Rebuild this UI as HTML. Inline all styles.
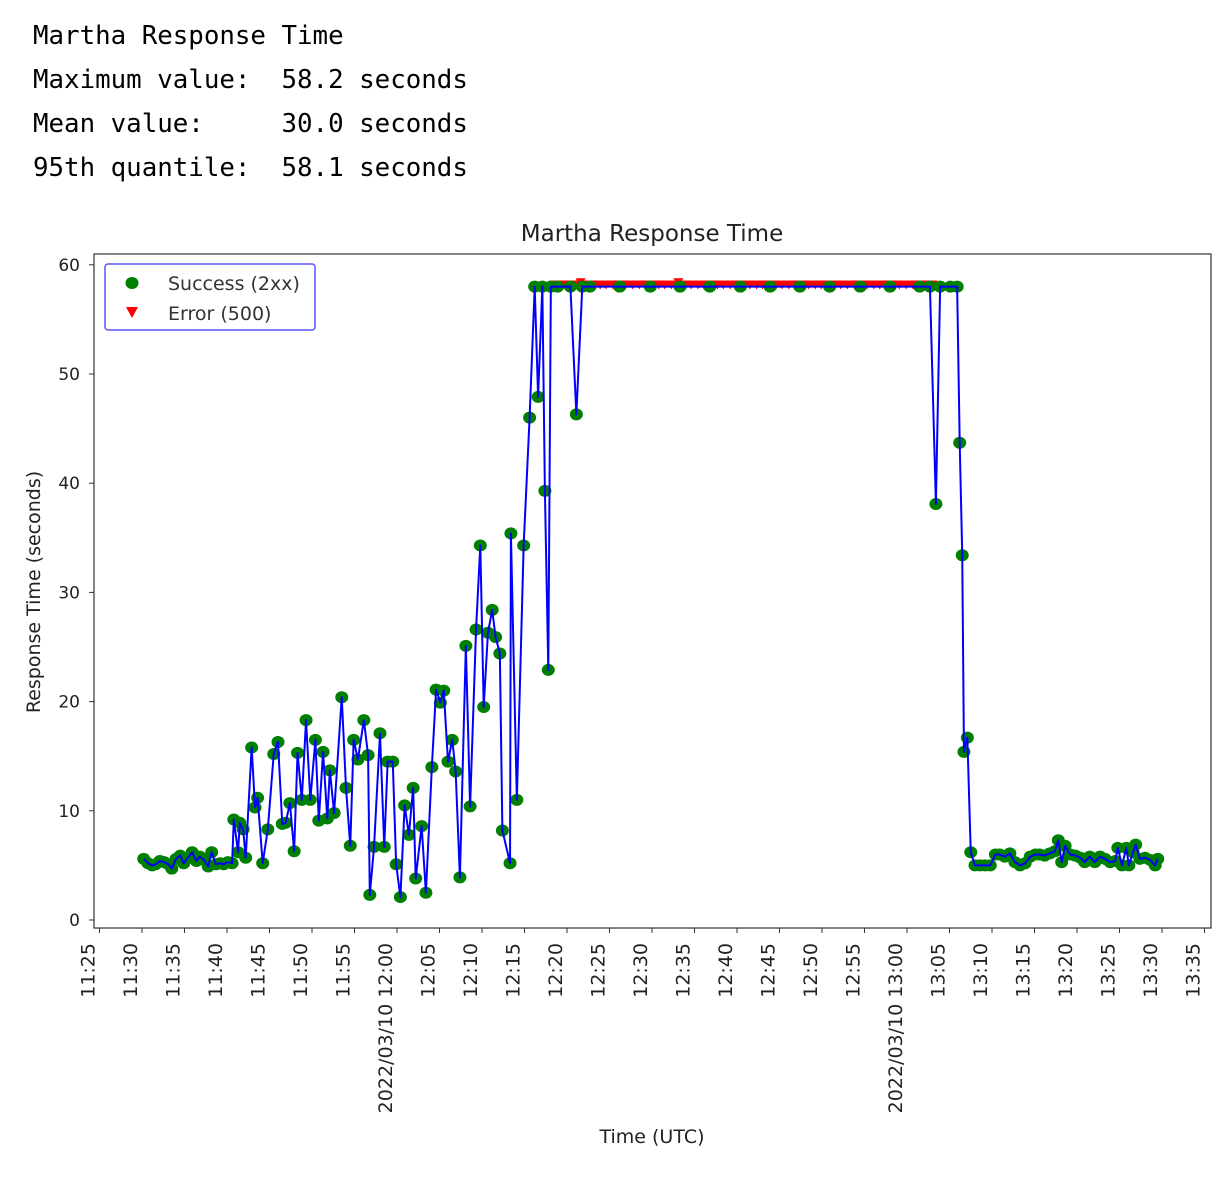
<!DOCTYPE html>
<html><head><meta charset="utf-8"><style>
body{margin:0;background:#fff;width:1228px;height:1180px;overflow:hidden}
#hdr{position:absolute;left:33px;top:14px;font-family:"DejaVu Sans Mono","Liberation Mono",monospace;font-size:25.8px;line-height:44px;white-space:pre;color:#000}
svg{position:absolute;left:0;top:0}
</style></head><body>
<div id="hdr">Martha Response Time
Maximum value:  58.2 seconds
Mean value:     30.0 seconds
95th quantile:  58.1 seconds</div>
<svg id="chart" width="1228" height="1180"></svg>
<script>
// minutes after 11:00 UTC
const successTimes=[30.2,30.7,31.2,31.6,32.1,32.6,33.1,33.5,34.0,34.5,34.9,35.4,35.9,36.4,36.8,37.3,37.8,38.2,38.7,39.2,39.6,40.1,40.6,40.8,41.3,41.5,41.9,42.2,42.9,43.3,43.6,44.2,44.8,45.5,46.0,46.5,46.9,47.4,47.9,48.3,48.8,49.3,49.8,50.4,50.8,51.3,51.8,52.1,52.6,53.5,54.0,54.5,54.9,55.4,56.1,56.6,56.8,57.3,58.0,58.5,58.9,59.5,59.9,60.4,60.9,61.4,61.9,62.2,62.9,63.4,64.1,64.6,65.1,65.5,66.0,66.5,66.9,67.4,68.1,68.6,69.3,69.8,70.2,70.7,71.2,71.6,72.1,72.4,73.3,73.4,74.1,74.9,75.6,76.2,76.6,77.1,77.4,77.8,78.1,78.9,80.4,81.1,81.8,82.7,86.2,89.8,93.3,96.8,100.4,103.9,107.4,110.9,114.5,118.0,121.5,122.7,123.4,123.9,125.1,125.9,126.2,126.5,126.7,127.1,127.5,128.0,128.6,129.2,129.8,130.4,130.9,131.5,132.1,132.7,133.3,133.9,134.5,135.1,135.6,136.2,136.8,137.4,137.8,138.2,138.6,139.2,139.8,140.4,140.9,141.5,142.1,142.7,143.3,143.9,144.5,144.8,145.3,145.8,146.1,146.6,146.9,147.4,148.0,148.6,149.2,149.5];
const successValues=[5.6,5.2,5.0,5.1,5.4,5.3,5.1,4.7,5.6,5.9,5.2,5.7,6.2,5.4,5.8,5.5,4.9,6.2,5.1,5.2,5.1,5.3,5.2,9.2,6.2,8.9,8.3,5.7,15.8,10.3,11.2,5.2,8.3,15.2,16.3,8.8,8.9,10.7,6.3,15.3,11.0,18.3,11.0,16.5,9.1,15.4,9.3,13.7,9.8,20.4,12.1,6.8,16.5,14.7,18.3,15.1,2.3,6.7,17.1,6.7,14.5,14.5,5.1,2.1,10.5,7.8,12.1,3.8,8.6,2.5,14.0,21.1,19.9,21.0,14.5,16.5,13.6,3.9,25.1,10.4,26.6,34.3,19.5,26.3,28.4,25.9,24.4,8.2,5.2,35.4,11.0,34.3,46.0,58.0,47.9,58.0,39.3,22.9,58.0,58.0,58.0,46.3,58.0,58.0,58.0,58.0,58.0,58.0,58.0,58.0,58.0,58.0,58.0,58.0,58.0,58.0,38.1,58.0,58.0,58.0,43.7,33.4,15.4,16.7,6.2,5.0,5.0,5.0,5.0,6.0,6.0,5.8,6.1,5.3,5.0,5.2,5.8,6.0,6.0,5.9,6.1,6.3,7.3,5.3,6.8,6.0,5.9,5.7,5.3,5.8,5.3,5.8,5.6,5.3,5.4,6.6,5.0,6.6,5.0,6.2,6.9,5.6,5.7,5.5,5.0,5.6];
const errorTimes=[78.5,79.3,80.0,80.8,81.6,82.3,83.1,83.9,84.6,85.4,86.2,86.9,87.7,88.5,89.2,90.0,90.8,91.5,92.3,93.1,93.8,94.6,95.4,96.1,96.9,97.7,98.4,99.2,100.0,100.7,101.5,102.3,103.0,103.8,104.6,105.3,106.1,106.9,107.6,108.4,109.2,109.9,110.7,111.5,112.2,113.0,113.8,114.5,115.3,116.1,116.8,117.6,118.4,119.1,119.9,120.7,121.4,122.2,123.0];
const errorValues=[58.2,58.2,58.2,58.2,58.4,58.2,58.2,58.2,58.2,58.2,58.2,58.2,58.2,58.2,58.2,58.2,58.2,58.2,58.2,58.4,58.2,58.2,58.2,58.2,58.2,58.2,58.2,58.2,58.2,58.2,58.2,58.2,58.2,58.2,58.2,58.2,58.2,58.2,58.2,58.2,58.2,58.2,58.2,58.2,58.2,58.2,58.2,58.2,58.2,58.2,58.2,58.2,58.2,58.2,58.2,58.2,58.2,58.2,58.2];
const yTicks=[0,10,20,30,40,50,60];
const xTickLabels=["11:25","11:30","11:35","11:40","11:45","11:50","11:55","2022/03/10 12:00","12:05","12:10","12:15","12:20","12:25","12:30","12:35","12:40","12:45","12:50","12:55","2022/03/10 13:00","13:05","13:10","13:15","13:20","13:25","13:30","13:35"];
const xTickMinutes=[25,30,35,40,45,50,55,60,65,70,75,80,85,90,95,100,105,110,115,120,125,130,135,140,145,150,155];

const NS="http://www.w3.org/2000/svg";
const svg=document.getElementById('chart');
const L=94,T=254,R=1211,B=928;
const xs=m=>397+(m-60)*8.5;
const ys=v=>920-v*10.92;
function mk(tag,attrs,parent){const e=document.createElementNS(NS,tag);for(const k in attrs)e.setAttribute(k,attrs[k]);(parent||svg).appendChild(e);return e;}
const SF='"DejaVu Sans","Liberation Sans",sans-serif';

let frame=mk('rect',{x:L,y:T,width:R-L,height:B-T,fill:'none',stroke:'#333','stroke-width':1.2});



yTicks.forEach(v=>{
  const y=ys(v);
  const t=mk('line',{x1:L-5,x2:L,y1:y,y2:y,stroke:'#333'});
  
  
  const tx=mk('text',{x:L-14,y:y+6,'text-anchor':'end','font-family':SF,'font-size':17,fill:'#222'});
  tx.textContent=v;
  
  
});
xTickMinutes.forEach((m,i)=>{
  const x=xs(m);
  const t=mk('line',{x1:x,x2:x,y1:B,y2:B+5,stroke:'#333'});
  
  
  const tx=mk('text',{x:0,y:0,'text-anchor':'end','font-family':SF,'font-size':19,fill:'#222',transform:`translate(${x-5},${B+15}) rotate(-90)`});
  tx.textContent=xTickLabels[i];
  
  
});

let ep=errorTimes.map((m,i)=>xs(m)+','+ys(errorValues[i])).join(' ');
let el=mk('polyline',{points:ep,fill:'none',stroke:'#ff0000','stroke-width':2.5});


errorTimes.forEach((m,i)=>{
  const x=xs(m),y=ys(errorValues[i]);
  const p=mk('polygon',{points:`${x-5},${y-4} ${x+5},${y-4} ${x},${y+5}`,fill:'#ff0000'});
  
  
});
successTimes.forEach((m,i)=>{
  const c=mk('ellipse',{cx:xs(m),cy:ys(successValues[i]),rx:6.5,ry:6,fill:'#008000'});
  
  
});
let sp=successTimes.map((m,i)=>xs(m)+','+ys(successValues[i])).join(' ');
let sl=mk('polyline',{points:sp,fill:'none',stroke:'#0000ff','stroke-width':2,'stroke-linejoin':'round'});



const lg=mk('g',{});


mk('rect',{x:105,y:264,width:210,height:66,rx:3,fill:'#fff',stroke:'#5555ff','stroke-width':1.5},lg);
let le1=mk('ellipse',{cx:132,cy:283,rx:6.5,ry:6,fill:'#008000'},lg);


let lt1=mk('text',{x:168,y:290,'font-family':SF,'font-size':19,fill:'#333'},lg);lt1.textContent='Success (2xx)';


let le2=mk('polygon',{points:'126,307 138,307 132,318',fill:'#ff0000'},lg);


let lt2=mk('text',{x:168,y:320,'font-family':SF,'font-size':19,fill:'#333'},lg);lt2.textContent='Error (500)';



let ti=mk('text',{x:652,y:241,'text-anchor':'middle','font-family':SF,'font-size':23,fill:'#222'});
ti.textContent='Martha Response Time';


let xl=mk('text',{x:652,y:1143,'text-anchor':'middle','font-family':SF,'font-size':19,fill:'#222'});
xl.textContent='Time (UTC)';


let yl=mk('text',{x:0,y:0,'text-anchor':'middle','font-family':SF,'font-size':19,fill:'#222',transform:'translate(40,592) rotate(-90)'});
yl.textContent='Response Time (seconds)';


</script>
</body></html>
